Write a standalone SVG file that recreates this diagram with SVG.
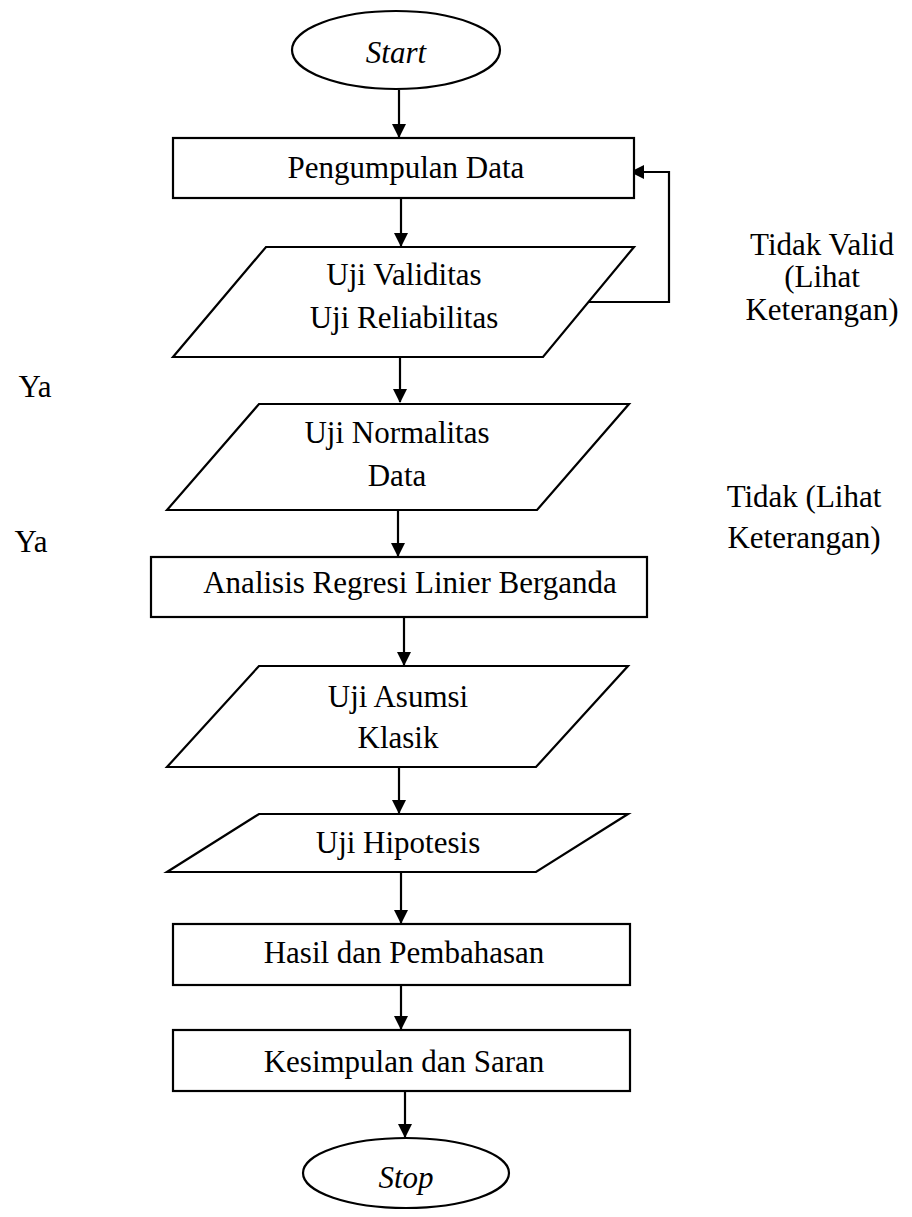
<svg xmlns="http://www.w3.org/2000/svg" width="912" height="1217" viewBox="0 0 912 1217">
<style>
.s{fill:#fff;stroke:#000;stroke-width:2.2}
.t{font-family:"Liberation Serif","Times New Roman",serif;font-size:31px;fill:#000;text-anchor:middle}
.i{font-style:italic}
.l{fill:none;stroke:#000;stroke-width:2.2}
</style>
<defs>
<marker id="ah" markerWidth="14" markerHeight="14" viewBox="0 0 14 14" refX="13" refY="7" orient="auto" markerUnits="userSpaceOnUse">
<path d="M0,0 L14,7 L0,14 Z" fill="#000"/>
</marker>
</defs>
<rect width="912" height="1217" fill="#fff"/>
<g id="connectors">
<line class="l" x1="399" y1="90" x2="399" y2="137" marker-end="url(#ah)"/>
<line class="l" x1="401" y1="198" x2="401" y2="246" marker-end="url(#ah)"/>
<line class="l" x1="400" y1="357" x2="400" y2="402" marker-end="url(#ah)"/>
<line class="l" x1="398" y1="510" x2="398" y2="556" marker-end="url(#ah)"/>
<line class="l" x1="404" y1="617" x2="404" y2="665" marker-end="url(#ah)"/>
<line class="l" x1="399" y1="767" x2="399" y2="813" marker-end="url(#ah)"/>
<line class="l" x1="401" y1="872" x2="401" y2="923" marker-end="url(#ah)"/>
<line class="l" x1="401" y1="985" x2="401" y2="1029" marker-end="url(#ah)"/>
<line class="l" x1="405" y1="1091" x2="405" y2="1137" marker-end="url(#ah)"/>
<polyline class="l" points="589,302 669,302 669,172 631,172" marker-end="url(#ah)"/>
</g>
<g id="start">
<ellipse class="s" cx="396" cy="50" rx="104" ry="39"/>
<text class="t i" x="396" y="63">Start</text>
</g>
<g id="pengumpulan">
<rect class="s" x="173" y="138" width="461" height="60"/>
<text class="t" x="406" y="178">Pengumpulan Data</text>
</g>
<g id="validitas">
<polygon class="s" points="266,247 634,247 543,357 173,357"/>
<text class="t" x="404" y="285">Uji Validitas</text>
<text class="t" x="404" y="328">Uji Reliabilitas</text>
</g>
<g id="normalitas">
<polygon class="s" points="259,404 629,404 537,510 167,510"/>
<text class="t" x="397" y="443">Uji Normalitas</text>
<text class="t" x="397" y="486">Data</text>
</g>
<g id="regresi">
<rect class="s" x="151" y="557" width="496" height="60"/>
<text class="t" x="410" y="593">Analisis Regresi Linier Berganda</text>
</g>
<g id="asumsi">
<polygon class="s" points="259,666 628,666 536,767 167,767"/>
<text class="t" x="398" y="707">Uji Asumsi</text>
<text class="t" x="398" y="748">Klasik</text>
</g>
<g id="hipotesis">
<polygon class="s" points="259,814 628,814 536,872 167,872"/>
<text class="t" x="398" y="853">Uji Hipotesis</text>
</g>
<g id="hasil">
<rect class="s" x="173" y="924" width="457" height="61"/>
<text class="t" x="404" y="963">Hasil dan Pembahasan</text>
</g>
<g id="kesimpulan">
<rect class="s" x="173" y="1030" width="457" height="61"/>
<text class="t" x="404" y="1072">Kesimpulan dan Saran</text>
</g>
<g id="stop">
<ellipse class="s" cx="406" cy="1173" rx="103" ry="35"/>
<text class="t i" x="406" y="1188">Stop</text>
</g>
<g id="labels">
<text class="t" x="822" y="255">Tidak Valid</text>
<text class="t" x="822" y="287">(Lihat</text>
<text class="t" x="822" y="320">Keterangan)</text>
<text class="t" x="35" y="397">Ya</text>
<text class="t" x="804" y="507">Tidak (Lihat</text>
<text class="t" x="804" y="548">Keterangan)</text>
<text class="t" x="31" y="552">Ya</text>
</g>
</svg>
